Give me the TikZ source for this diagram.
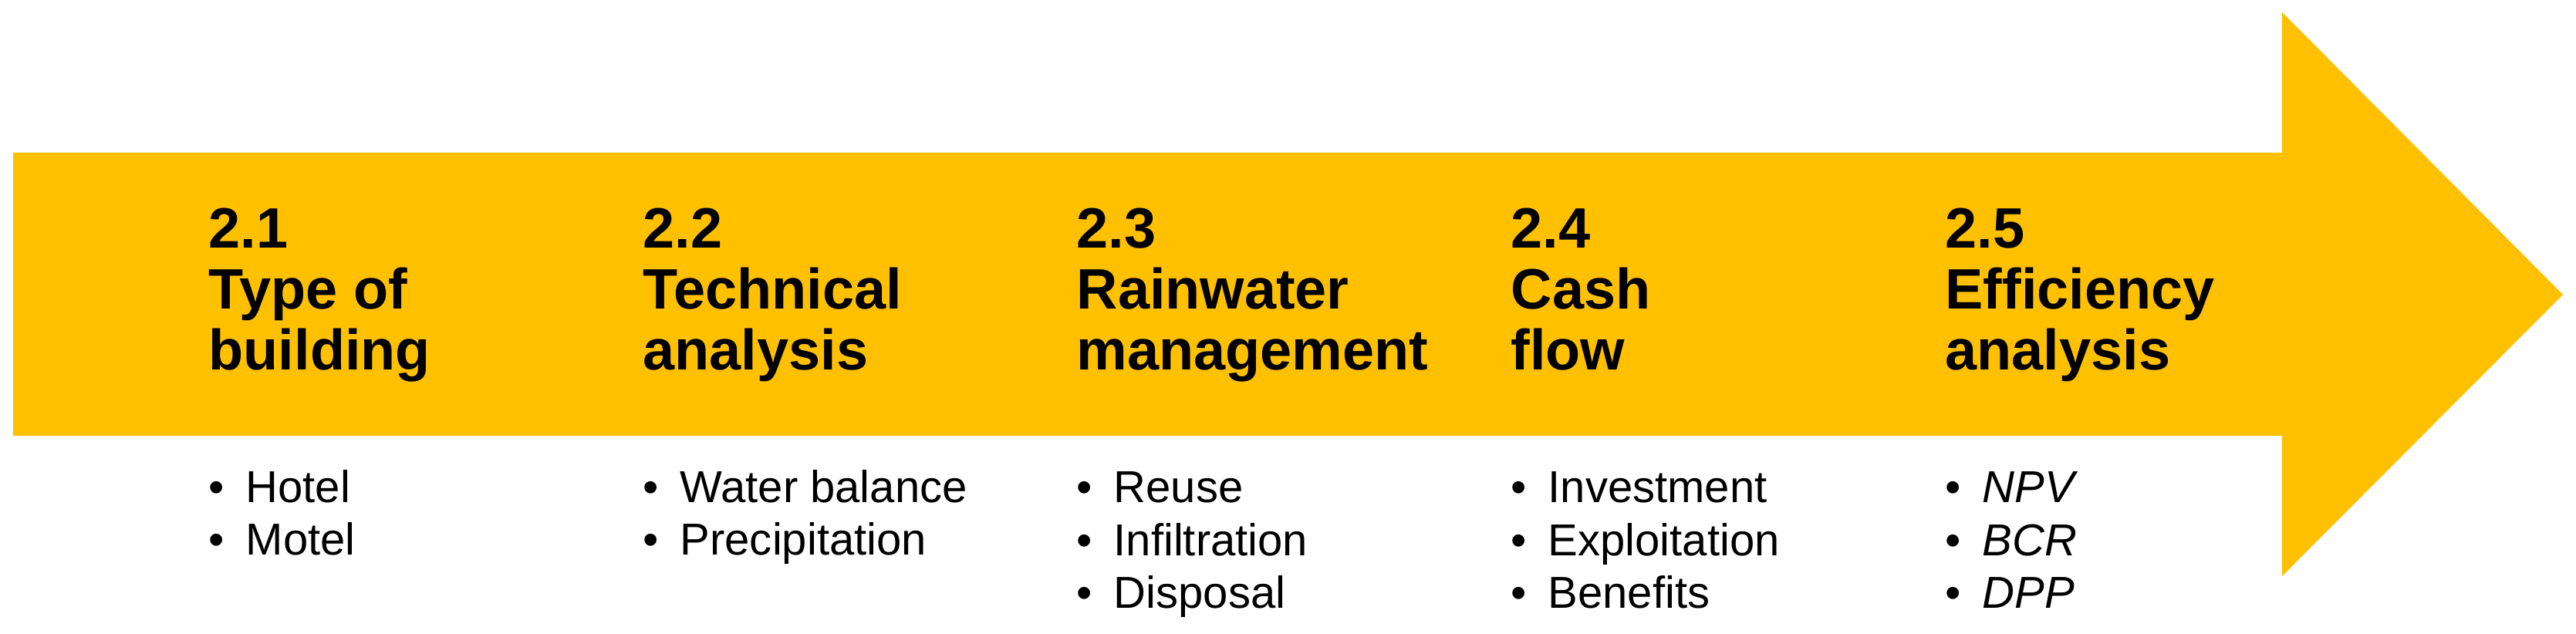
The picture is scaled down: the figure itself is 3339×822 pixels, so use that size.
\documentclass[tikz,border=0pt]{standalone}
\usepackage{fontspec}
\setmainfont{Liberation Sans}
\definecolor{gold}{HTML}{FFC000}
\tikzset{
  headtxt/.style={anchor=base west, align=left, inner sep=0pt,
    font=\fontsize{21}{22.5}\selectfont\bfseries},
  listtxt/.style={anchor=base west, align=left, inner sep=0pt,
    font=\fontsize{16.5}{19.6}\selectfont},
  arrowshape/.style={fill=gold, draw=none}
}
\newcommand\bul{\makebox[0.48cm][l]{\textbullet}}
\begin{document}
\begin{tikzpicture}[x=0.01cm,y=-0.01cm]
\path[use as bounding box] (0,0) rectangle (3339,822);
\fill[arrowshape] (17,198) -- (2958,198) -- (2958,16) -- (3322,382) -- (2958,747) -- (2958,565) -- (17,565) -- cycle;

% multi-line nodes: base anchor = baseline of the last line
\node[headtxt] (h1) at (270,480) {2.1\\Type of\\building};
\node[headtxt] (h2) at (833,480) {2.2\\Technical\\analysis};
\node[headtxt] (h3) at (1395,480) {2.3\\Rainwater\\management};
\node[headtxt] (h4) at (1958,480) {2.4\\Cash\\flow};
\node[headtxt] (h5) at (2521,480) {2.5\\Efficiency\\analysis};

\node[listtxt] (l1) at (270,720) {\bul Hotel\\\bul Motel};
\node[listtxt] (l2) at (833,720) {\bul Water balance\\\bul Precipitation};
\node[listtxt] (l3) at (1395,789) {\bul Reuse\\\bul Infiltration\\\bul Disposal};
\node[listtxt] (l4) at (1958,789) {\bul Investment\\\bul Exploitation\\\bul Benefits};
\node[listtxt] (l5) at (2521,789) {\bul\textit{NPV}\\\bul\textit{BCR}\\\bul\textit{DPP}};
\end{tikzpicture}
\end{document}
